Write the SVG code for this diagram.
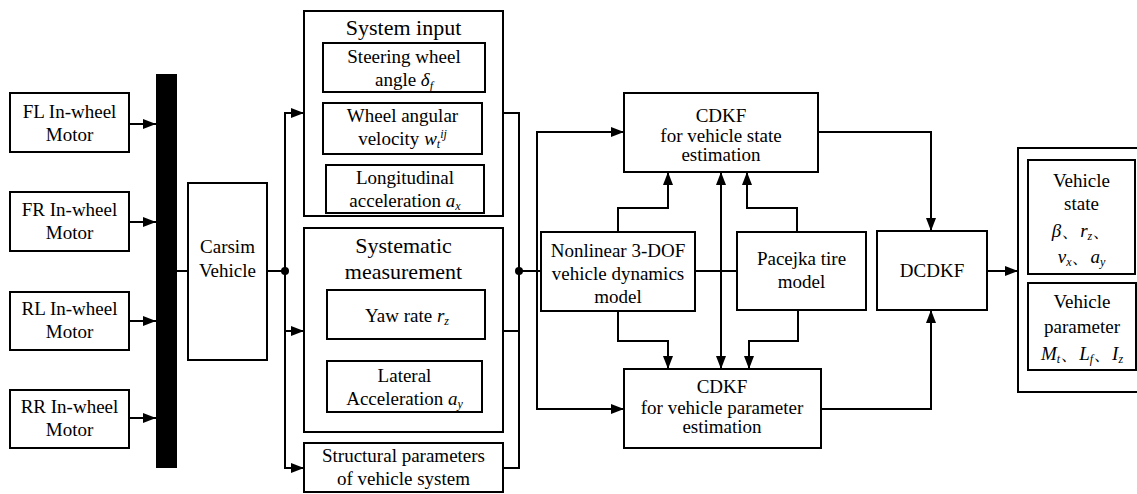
<svg xmlns="http://www.w3.org/2000/svg" width="1137" height="494" viewBox="0 0 1137 494">
<style>
.box{fill:#fff;stroke:#000;stroke-width:2}
.ln{fill:none;stroke:#000;stroke-width:2}
text{font-family:'Liberation Serif','Times New Roman','DejaVu Serif',serif;font-size:19px;text-anchor:middle;fill:#000}
.h{font-size:22px}
.i{font-style:italic}
.s{font-size:12px;font-style:italic}
</style>
<defs>
<marker id="ar" markerUnits="userSpaceOnUse" markerWidth="14" markerHeight="10" refX="13" refY="5" orient="auto-start-reverse">
<path d="M0,0 L13,5 L0,10 z" fill="#000"/>
</marker>
</defs>
<rect width="1137" height="494" fill="#fff"/>

<g id="connectors">
<line class="ln" x1="129" y1="124" x2="156" y2="124" marker-end="url(#ar)"/>
<line class="ln" x1="129" y1="222" x2="156" y2="222" marker-end="url(#ar)"/>
<line class="ln" x1="129" y1="321" x2="156" y2="321" marker-end="url(#ar)"/>
<line class="ln" x1="129" y1="418" x2="156" y2="418" marker-end="url(#ar)"/>
<line class="ln" x1="177" y1="271" x2="188" y2="271"/>
<line class="ln" x1="267" y1="271" x2="285" y2="271"/>
<circle cx="285" cy="271" r="4" fill="#000"/>
<line class="ln" x1="285" y1="112" x2="285" y2="469"/>
<line class="ln" x1="285" y1="113" x2="304" y2="113" marker-end="url(#ar)"/>
<line class="ln" x1="285" y1="331" x2="304" y2="331" marker-end="url(#ar)"/>
<line class="ln" x1="285" y1="468" x2="304" y2="468" marker-end="url(#ar)"/>
<polyline class="ln" points="503,113 519,113 519,468 503,468"/>
<line class="ln" x1="503" y1="331" x2="519" y2="331"/>
<circle cx="519" cy="271" r="4" fill="#000"/>
<line class="ln" x1="519" y1="271" x2="541" y2="271"/>
<polyline class="ln" points="624,132 537,132 537,409 624,409"/>
<line class="ln" x1="537" y1="132" x2="624" y2="132" marker-end="url(#ar)"/>
<line class="ln" x1="537" y1="409" x2="624" y2="409" marker-end="url(#ar)"/>
<path class="ln" d="M618,232 V208 H668 V172" marker-end="url(#ar)"/>
<path class="ln" d="M797,232 V208 H747 V172" marker-end="url(#ar)"/>
<line class="ln" x1="721" y1="172" x2="721" y2="369" marker-start="url(#ar)" marker-end="url(#ar)"/>
<line class="ln" x1="695" y1="271" x2="737" y2="271"/>
<path class="ln" d="M618,311 V341 H668 V369" marker-end="url(#ar)"/>
<path class="ln" d="M798,310 V341 H749 V369" marker-end="url(#ar)"/>
<path class="ln" d="M818,132 H931 V231" marker-end="url(#ar)"/>
<path class="ln" d="M821,409 H931 V310" marker-end="url(#ar)"/>
<line class="ln" x1="987" y1="271" x2="1018" y2="271" marker-end="url(#ar)"/>
</g>

<g id="bus"><rect x="156" y="74" width="21" height="394" fill="#000"/></g>

<g id="fl"><rect class="box" x="10" y="93" width="119" height="59"/>
<text x="69.5" y="118">FL In-wheel</text><text x="69.5" y="141">Motor</text></g>
<g id="fr"><rect class="box" x="10" y="192" width="119" height="59"/>
<text x="69.5" y="216">FR In-wheel</text><text x="69.5" y="239">Motor</text></g>
<g id="rl"><rect class="box" x="10" y="292" width="119" height="58"/>
<text x="69.5" y="315">RL In-wheel</text><text x="69.5" y="338">Motor</text></g>
<g id="rr"><rect class="box" x="10" y="390" width="119" height="58"/>
<text x="69.5" y="413">RR In-wheel</text><text x="69.5" y="436">Motor</text></g>

<g id="carsim"><rect class="box" x="188" y="183" width="79" height="177"/>
<text x="227.5" y="253">Carsim</text><text x="227.5" y="277">Vehicle</text></g>

<g id="system-input"><rect class="box" x="304" y="11" width="199" height="205"/>
<text class="h" x="403.5" y="35">System input</text></g>
<g id="steering"><rect class="box" x="323" y="43" width="162" height="49"/>
<text x="404" y="63">Steering wheel</text>
<text x="404" y="86">angle <tspan class="i">δ</tspan><tspan class="s" dy="4">f</tspan></text></g>
<g id="wheel-vel"><rect class="box" x="323" y="103" width="159" height="51"/>
<text x="402.5" y="122">Wheel angular</text>
<text x="402.5" y="145">velocity <tspan class="i">w</tspan><tspan class="s" dy="3">t</tspan><tspan class="s" dy="-10">ij</tspan></text></g>
<g id="longitudinal"><rect class="box" x="326" y="165" width="158" height="48"/>
<text x="405" y="184">Longitudinal</text>
<text x="405" y="207">acceleration <tspan class="i">a</tspan><tspan class="s" dy="3">x</tspan></text></g>

<g id="systematic"><rect class="box" x="304" y="228" width="199" height="204"/>
<text class="h" x="403.5" y="253">Systematic</text><text class="h" x="403.5" y="279">measurement</text></g>
<g id="yaw"><rect class="box" x="327" y="290" width="158" height="49"/>
<text x="407" y="322">Yaw rate  <tspan class="i">r</tspan><tspan class="s" dy="3">z</tspan></text></g>
<g id="lateral"><rect class="box" x="327" y="361" width="155" height="51"/>
<text x="404.5" y="382">Lateral</text>
<text x="404.5" y="405">Acceleration <tspan class="i">a</tspan><tspan class="s" dy="3">y</tspan></text></g>
<g id="structural"><rect class="box" x="304" y="443" width="199" height="49"/>
<text x="403.5" y="462">Structural parameters</text><text x="403.5" y="485">of vehicle system</text></g>

<g id="cdkf-state"><rect class="box" x="624" y="93" width="194" height="79"/>
<text x="721" y="122">CDKF</text><text x="721" y="142">for vehicle state</text><text x="721" y="161">estimation</text></g>
<g id="nonlinear"><rect class="box" x="541" y="232" width="154" height="79"/>
<text x="618" y="257">Nonlinear 3-DOF</text><text x="618" y="280">vehicle dynamics</text><text x="618" y="303">model</text></g>
<g id="pacejka"><rect class="box" x="737" y="232" width="129" height="78"/>
<text x="801.5" y="265">Pacejka tire</text><text x="801.5" y="288">model</text></g>
<g id="cdkf-param"><rect class="box" x="624" y="369" width="197" height="79"/>
<text x="722" y="393">CDKF</text><text x="722" y="414">for vehicle parameter</text><text x="722" y="433">estimation</text></g>
<g id="dcdkf"><rect class="box" x="877" y="231" width="110" height="79"/>
<text x="932" y="277">DCDKF</text></g>

<g id="output"><rect class="box" x="1018" y="148" width="130" height="244"/></g>
<g id="vehicle-state"><rect class="box" x="1028" y="160" width="107" height="114"/>
<text x="1081.5" y="187">Vehicle</text><text x="1081.5" y="210">state</text>
<text x="1081.5" y="237"><tspan class="i">β</tspan>、<tspan class="i">r</tspan><tspan class="s" dy="3">z</tspan><tspan dy="-3">、</tspan></text>
<text x="1081.5" y="263"><tspan class="i">v</tspan><tspan class="s" dy="3">x</tspan><tspan dy="-3">、</tspan><tspan class="i">a</tspan><tspan class="s" dy="3">y</tspan></text></g>
<g id="vehicle-param"><rect class="box" x="1028" y="283" width="108" height="87"/>
<text x="1082" y="308">Vehicle</text><text x="1082" y="333">parameter</text>
<text x="1082" y="360"><tspan class="i">M</tspan><tspan class="s" dy="3">t</tspan><tspan dy="-3">、</tspan><tspan class="i">L</tspan><tspan class="s" dy="3">f</tspan><tspan dy="-3">、</tspan><tspan class="i">I</tspan><tspan class="s" dy="3">z</tspan></text></g>
</svg>
